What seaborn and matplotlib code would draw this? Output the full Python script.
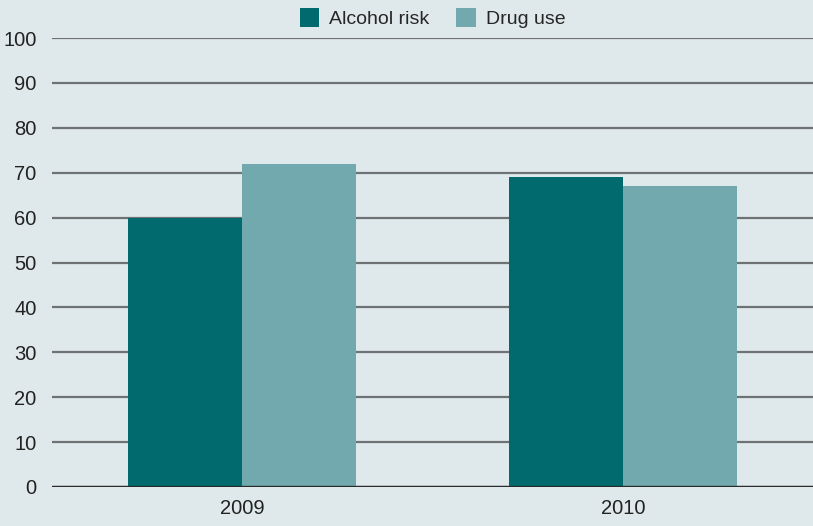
import pandas as pd
import matplotlib.pyplot as plt
import seaborn as sns

years = ["2009", "2010"]
alcohol_risk = [60, 69]
drug_use = [72, 67]

df = pd.DataFrame({
    "year": years * 2,
    "value": alcohol_risk + drug_use,
    "series": ["Alcohol risk"] * 2 + ["Drug use"] * 2,
})

bg = "#dfe9eb"
sns.set_style("white")
plt.rcParams["font.family"] = ["Liberation Sans Narrow", "Liberation Sans", "DejaVu Sans"]

fig = plt.figure(figsize=(8.13, 5.26), dpi=100, facecolor=bg)
ax = fig.add_axes([52 / 813, 1 - 487 / 526, 761 / 813, 449 / 526])
ax.set_facecolor(bg)

sns.barplot(data=df, x="year", y="value", hue="series", ax=ax,
            palette=["#006a6e", "#72a9ae"], width=0.6, saturation=1,
            linewidth=0, zorder=3)

ax.set_ylim(0, 100)
ax.set_xlim(-0.5, 1.5)
ax.set_yticks(range(0, 101, 10))
ax.yaxis.grid(True, color="#6f7272", linewidth=1.6, zorder=0)
ax.axhline(0, color="#2a2a2a", linewidth=2.4, zorder=4)
for s in ax.spines.values():
    s.set_visible(False)
ax.tick_params(axis="both", length=0, labelsize=14.5, colors="#222222")
ax.tick_params(axis="y", pad=11)
ax.tick_params(axis="x", pad=9)
ax.set_xlabel("")
ax.set_ylabel("")

ax.legend(loc="lower center", bbox_to_anchor=(0.5, 1.0), ncol=2, frameon=False,
          fontsize=14, handlelength=1.0, handleheight=1.1, handletextpad=0.5,
          columnspacing=1.4, borderaxespad=0.1)

fig.savefig("out.png", dpi=100, facecolor=bg)
